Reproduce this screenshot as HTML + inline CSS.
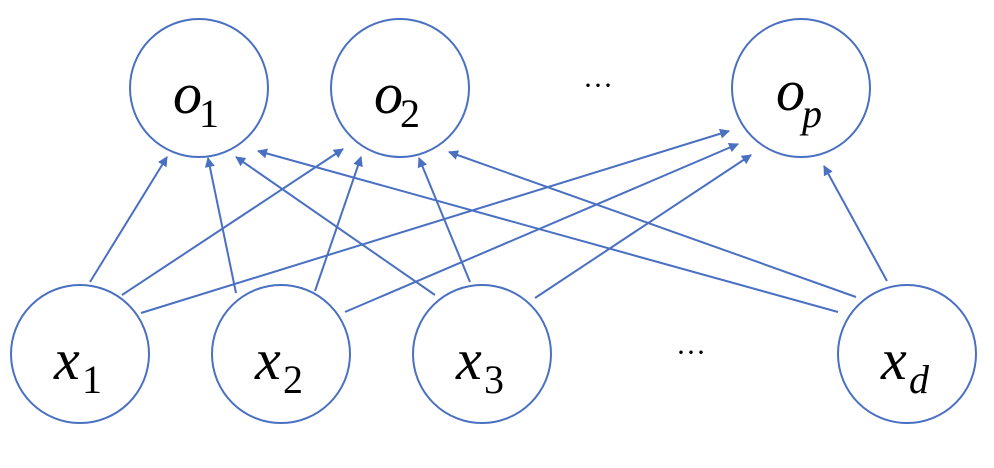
<!DOCTYPE html>
<html><head><meta charset="utf-8"><style>html,body{margin:0;padding:0;background:#fff}svg{display:block}</style></head><body>
<svg width="994" height="468" viewBox="0 0 994 468" xmlns="http://www.w3.org/2000/svg">
<defs><marker id="a" viewBox="0 0 10 10" refX="9" refY="5" markerWidth="10" markerHeight="10" markerUnits="userSpaceOnUse" orient="auto"><path d="M0,0 L10,5 L0,10 z" fill="#4a70c2"/></marker></defs>
<g fill="none" stroke="#4a70c2" stroke-width="2">
<circle cx="199" cy="88" r="69"/><circle cx="400" cy="88" r="69"/><circle cx="801" cy="88" r="69"/>
<circle cx="80" cy="354" r="69"/><circle cx="281" cy="354" r="69"/><circle cx="482" cy="354" r="69"/><circle cx="907" cy="354" r="69"/>
<g marker-end="url(#a)">
<line x1="90" y1="282" x2="167" y2="157"/>
<line x1="122" y1="295" x2="343" y2="149"/>
<line x1="141" y1="313" x2="729" y2="131"/>
<line x1="236" y1="293" x2="208" y2="158"/>
<line x1="315" y1="291" x2="361" y2="157"/>
<line x1="345" y1="312" x2="738" y2="144"/>
<line x1="435" y1="295" x2="236" y2="157"/>
<line x1="470" y1="282" x2="419" y2="158"/>
<line x1="535" y1="298" x2="751" y2="155"/>
<line x1="838" y1="312" x2="258" y2="151"/>
<line x1="856" y1="297" x2="449" y2="152"/>
<line x1="887" y1="281" x2="824" y2="166"/>
</g></g>
<g font-family="Liberation Serif, serif" fill="#000">
<text x="173" y="113" font-size="58" font-style="italic">o</text><text x="199" y="127" font-size="40">1</text>
<text x="374" y="113" font-size="58" font-style="italic">o</text><text x="400" y="127" font-size="40">2</text>
<text x="776" y="110" font-size="58" font-style="italic">o</text><text x="802" y="127" font-size="40" font-style="italic">p</text>
<text x="54" y="379" font-size="58" font-style="italic">x</text><text x="82" y="393" font-size="40">1</text>
<text x="255" y="379" font-size="58" font-style="italic">x</text><text x="283" y="393" font-size="40">2</text>
<text x="456" y="379" font-size="58" font-style="italic">x</text><text x="484" y="393" font-size="40">3</text>
<text x="881" y="379" font-size="58" font-style="italic">x</text><text x="909" y="393" font-size="40" font-style="italic">d</text>
<text x="583" y="95" font-size="30">···</text>
<text x="676" y="362" font-size="30">···</text>
</g>
</svg>
</body></html>
